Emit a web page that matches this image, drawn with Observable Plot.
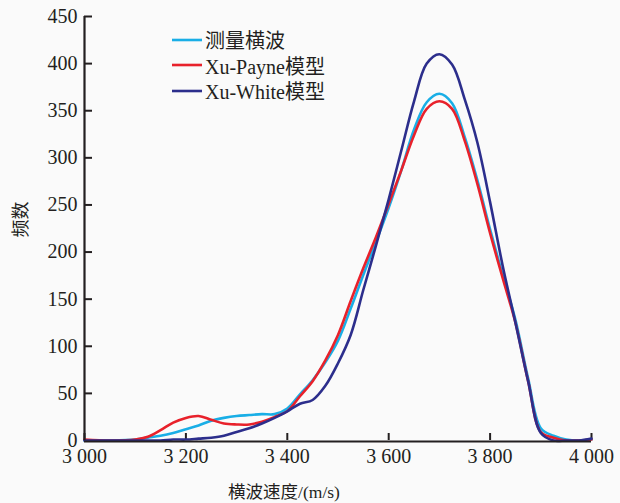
<!DOCTYPE html>
<html>
<head>
<meta charset="utf-8">
<script src="https://cdn.jsdelivr.net/npm/d3@7"></script>
<script src="https://cdn.jsdelivr.net/npm/@observablehq/plot@0.6"></script>
<style>
  html, body { margin: 0; padding: 0; background: #fafafa; }
  #wrap { position: relative; width: 620px; height: 503px; }
  #legend { position: absolute; left: 172px; top: 27px; font-family: "Liberation Serif", "Noto Sans CJK SC", serif; font-size: 20px; color: #231f20; }
  #legend .row { display: flex; align-items: center; height: 25.5px; }
  #legend svg { margin-right: 2px; }
  #chart svg text { font-family: "Liberation Serif", "Noto Sans CJK SC", serif !important; }
</style>
</head>
<body>
<div id="wrap">
  <div id="chart"></div>
  <div id="legend"></div>
</div>
<script>
// Shear-wave velocity (m/s)
const velocity = [3000, 3050, 3100, 3125, 3150, 3175, 3200, 3225, 3250, 3275, 3300, 3325, 3350, 3375, 3400, 3425, 3450, 3475, 3500, 3525, 3550, 3575, 3600, 3625, 3650, 3675, 3700, 3725, 3750, 3775, 3800, 3825, 3850, 3875, 3900, 3925, 3950, 3975, 4000];

// Frequency counts per series
const measured = [0, 0, 1, 3, 5, 8, 12, 16, 21, 24, 26, 27, 28, 28, 34, 49, 64, 83, 106, 140, 176, 211, 247, 287, 330, 359, 368, 358, 322, 276, 224, 175, 128, 66, 13, 5, 1, 0, 1];
const xuPayne  = [1, 0, 1, 4, 11, 19, 24, 26, 22, 18, 17, 17, 20, 25, 31, 47, 63, 85, 112, 148, 183, 216, 251, 287, 324, 352, 360, 352, 318, 272, 220, 172, 125, 63, 9, 3, 0, 0, 1];
const xuWhite  = [0, 0, 0, 0, 0, 1, 1, 2, 3, 5, 9, 13, 18, 24, 31, 39, 43, 58, 82, 112, 160, 207, 256, 308, 360, 400, 410, 399, 362, 316, 253, 185, 125, 63, 8, 0, 0, 0, 2];

const seriesNames = ["测量横波", "Xu-Payne模型", "Xu-White模型"];
const seriesColors = ["#19aee6", "#e8212b", "#2c2e8c"];

const xTicks = [3000, 3200, 3400, 3600, 3800, 4000];
const yTicks = [0, 50, 100, 150, 200, 250, 300, 350, 400, 450];

const xLabel = "横波速度/(m/s)";
const yLabel = "频数";

const seriesValues = [measured, xuPayne, xuWhite];
const rows = seriesValues.flatMap((vals, s) =>
  vals.map((c, i) => ({series: seriesNames[s], v: velocity[i], count: c}))
);

// thousands grouped with a space: 3 000
const fmt = d => {
  const s = String(d);
  return s.length > 3 ? s.slice(0, s.length - 3) + " " + s.slice(-3) : s;
};

const ink = "#231f20";

const chart = Plot.plot({
  width: 620,
  height: 503,
  marginLeft: 84,
  marginRight: 29,
  marginTop: 16,
  marginBottom: 63,
  style: {background: "transparent", color: ink},
  x: {domain: [3000, 4000]},
  y: {domain: [0, 450]},
  color: {domain: seriesNames, range: seriesColors},
  marks: [
    Plot.axisX({ticks: xTicks, tickSize: 0, tickPadding: 8, tickFormat: fmt, label: null, fontSize: 20, fill: ink}),
    Plot.axisY({ticks: yTicks, tickSize: 0, tickPadding: 7, label: null, fontSize: 20, fill: ink}),
    Plot.tickX(xTicks, {x: d => d, insetTop: 417, stroke: ink, strokeWidth: 2}),
    Plot.tickY(yTicks, {y: d => d, insetRight: 499, stroke: ink, strokeWidth: 2}),
    Plot.line(rows, {
      x: "v", y: "count", z: "series", stroke: "series",
      strokeWidth: 2.6, curve: "catmull-rom"
    }),
    Plot.ruleX([3000], {stroke: ink, strokeWidth: 2.2}),
    Plot.ruleY([0], {stroke: ink, strokeWidth: 2.2, dy: 1}),
    Plot.text([xLabel], {text: d => d, frameAnchor: "bottom", dx: -54, dy: 57, fontSize: 17.5, fill: ink}),
    Plot.text([yLabel], {text: d => d, frameAnchor: "left", rotate: -90, dx: -63, dy: 9, fontSize: 18, fill: ink})
  ]
});
document.getElementById("chart").append(chart);

// Legend: short line swatch followed by series name
const legend = d3.select("#legend");
seriesNames.forEach((name, i) => {
  const row = legend.append("div").attr("class", "row");
  const sw = row.append("svg").attr("width", 31).attr("height", 6);
  sw.append("line").attr("x1", 0).attr("x2", 30).attr("y1", 3).attr("y2", 3)
    .attr("stroke", seriesColors[i]).attr("stroke-width", 2.6);
  row.append("span").text(name);
});
</script>
</body>
</html>
